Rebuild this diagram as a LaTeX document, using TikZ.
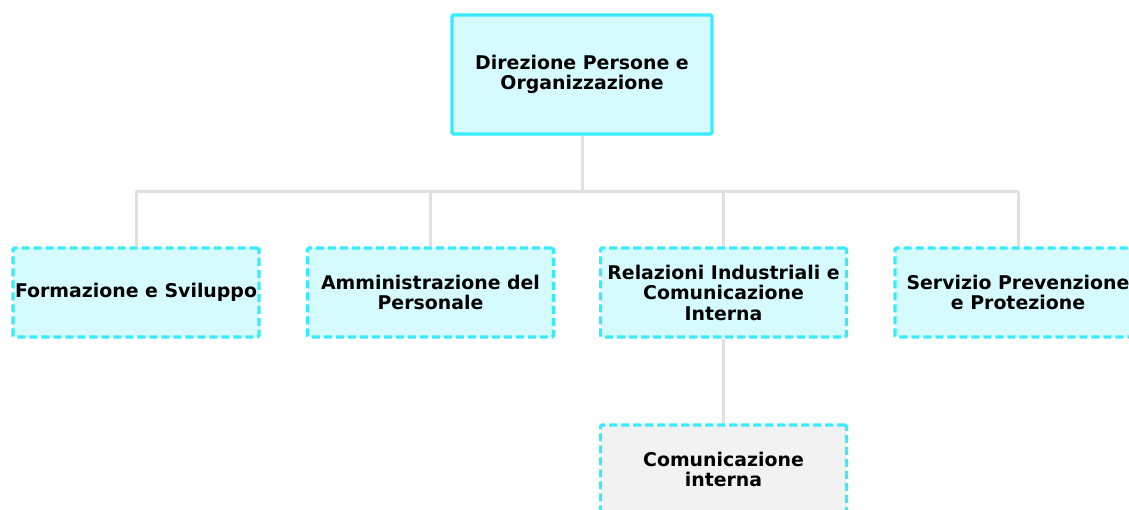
\documentclass[tikz,border=0pt]{standalone}
\usepackage{fontspec}
\setmainfont{DejaVu Sans}
\usetikzlibrary{positioning}
\definecolor{boxline}{HTML}{38ECFF}
\definecolor{boxfill}{HTML}{D6FBFF}
\definecolor{leaffill}{HTML}{F2F2F2}
\definecolor{linkgray}{HTML}{E0E0E0}
\tikzset{
	unit/.style = {draw = boxline, fill = boxfill, line width = 3.4pt, rounded corners = 1.5pt,
		minimum width = 246pt, minimum height = 89pt, align = center, inner sep = 0pt,
		font = \fontsize{18.9}{20.5}\selectfont\bfseries},
	subunit/.style = {unit, dash pattern = on 8pt off 4pt},
	head/.style = {unit, minimum width = 260pt, minimum height = 119pt},
	leaf/.style = {subunit, fill = leaffill},
	link/.style = {draw = linkgray, line width = 3pt}
}
\begin{document}
\begin{tikzpicture}[x = 1pt, y = -1pt]
		\useasboundingbox[fill = white] (0, 0) rectangle (1129, 509);
		\clip (0, 0) rectangle (1129, 509);
		\node[head] (dir) at (582, 74.5) {Direzione Persone e\\Organizzazione};
		%%%%%%%%%
		\node[subunit] (form) at (136, 292.5) {Formazione e Sviluppo};
		\node[subunit] (amm) at (430.5, 292.5) {Amministrazione del\\Personale};
		\node[subunit] (rel) at (723.5, 292.5) {Relazioni Industriali e\\Comunicazione\\Interna};
		\node[subunit] (spp) at (1018, 292.5) {Servizio Prevenzione\\e Protezione};
		%%%%%%%%%
		\node[leaf] (com) at (723.5, 469.5) {Comunicazione\\interna};
		%%%%%%%%%
		\coordinate (bus) at (582, 191);
		\draw[link] (dir.south) -- (bus);
		\draw[link] (bus -| form.north) -- (bus -| spp.north);
		\draw[link] (bus -| form.north) -- (form.north);
		\draw[link] (bus -| amm.north) -- (amm.north);
		\draw[link] (bus -| rel.north) -- (rel.north);
		\draw[link] (bus -| spp.north) -- (spp.north);
		\draw[link] (rel.south) -- (com.north);
	\end{tikzpicture}
\end{document}
